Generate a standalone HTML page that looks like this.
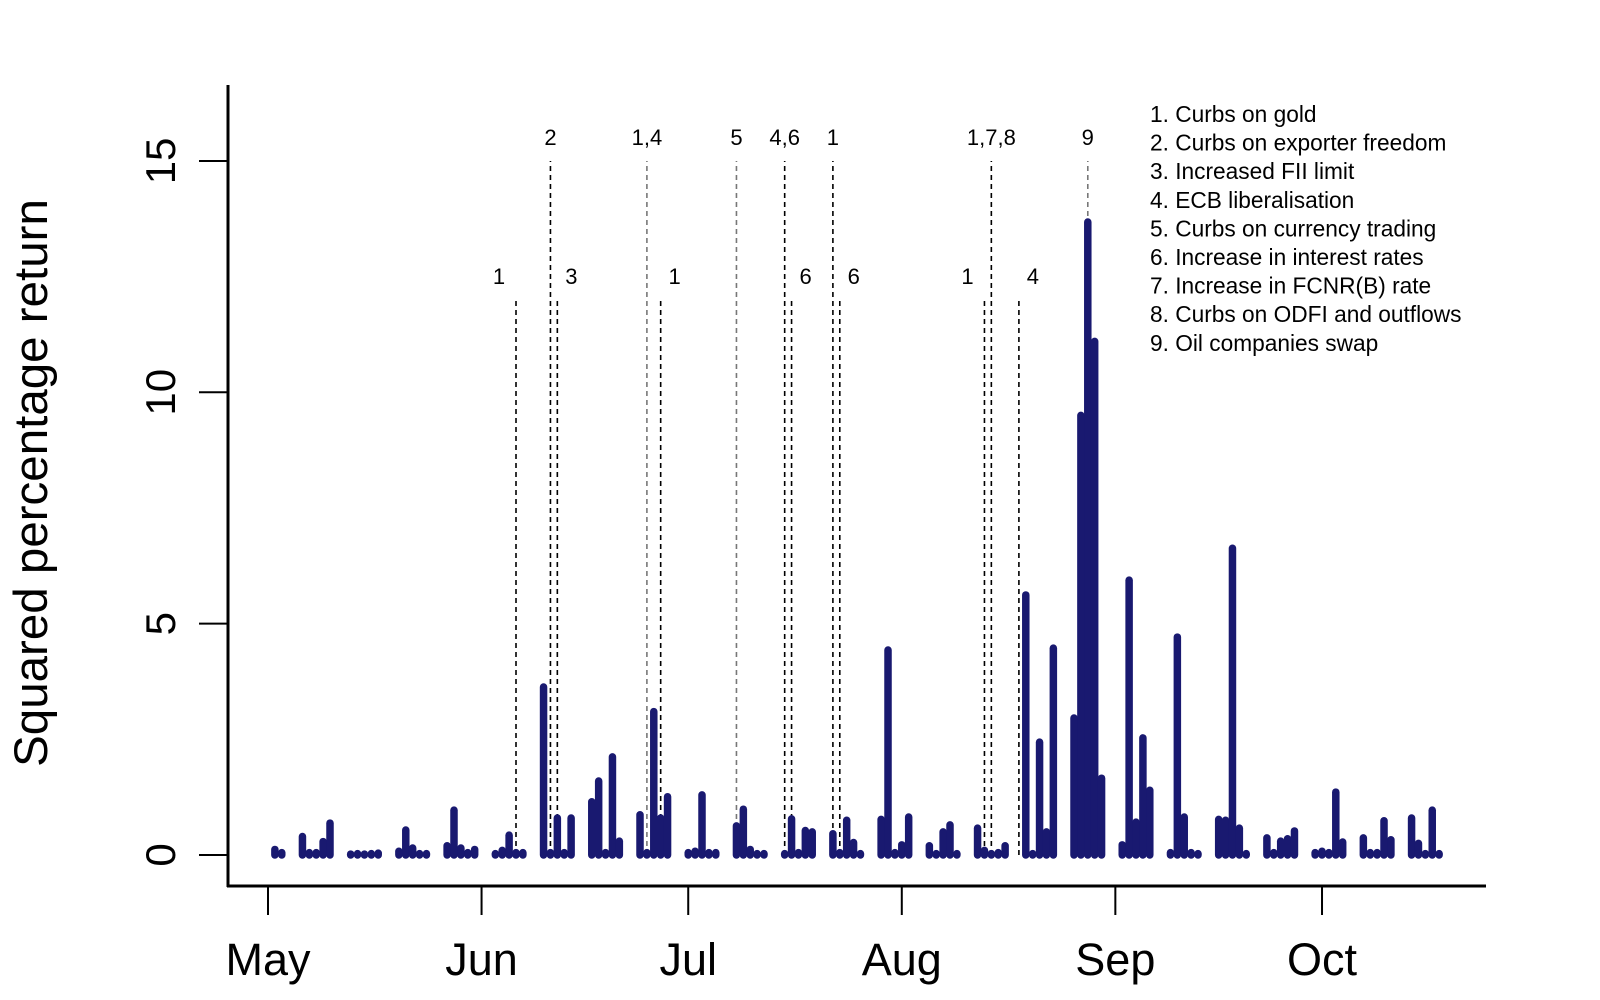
<!DOCTYPE html>
<html><head><meta charset="utf-8"><title>Squared percentage return</title>
<style>
html,body{margin:0;padding:0;background:#fff;}
svg{display:block;font-family:"Liberation Sans",Arial,sans-serif;}
</style></head>
<body>
<svg id="chart" width="1600" height="1000" viewBox="0 0 1600 1000" xmlns="http://www.w3.org/2000/svg">
  <g id="events"></g>
  <g id="bars"></g>
  <g id="axes"></g>
  <text x="0" y="0" transform="translate(47,483) rotate(-90)" text-anchor="middle" font-size="47.5" fill="#000">Squared percentage return</text>
  <g id="legend" font-size="22.7" fill="#000"></g>
</svg>
<script>
// ---- data ----
const startDate = "2013-05-02"; // first trading day; weekdays only
const values = [
  0.12,0.05,
  0.4,0.05,0.05,0.29,0.69,
  0.02,0.03,0.02,0.03,0.04,
  0.08,0.54,0.15,0.03,0.03,
  0.2,0.97,0.15,0.05,0.12,
  0.03,0.1,0.43,0.05,0.05,
  3.63,0.05,0.8,0.05,0.8,
  1.15,1.6,0.05,2.12,0.3,
  0.87,0.05,3.1,0.8,1.26,
  0.05,0.08,1.3,0.05,0.05,
  0.63,0.99,0.12,0.03,0.03,
  0.03,0.78,0.05,0.53,0.5,
  0.46,0.05,0.75,0.27,0.03,
  0.77,4.43,0.05,0.22,0.82,
  0.2,0.03,0.5,0.65,0.03,
  0.58,0.1,0.03,0.05,0.2,
  5.62,0.03,2.44,0.5,4.47,
  2.96,9.5,13.68,11.1,1.66,
  0.22,5.94,0.71,2.53,1.4,
  0.05,4.71,0.82,0.05,0.03,
  0.77,0.75,6.63,0.58,0.03,
  0.37,0.05,0.3,0.35,0.52,
  0.05,0.08,0.05,1.36,0.28,
  0.37,0.05,0.05,0.74,0.33,
  0.8,0.25,0.03,0.97,0.03
];
const eventDates = ["2013-06-11","2013-06-25","2013-07-08","2013-07-15","2013-07-22","2013-08-14","2013-08-28",
                    "2013-06-06","2013-06-12","2013-06-27","2013-07-16","2013-07-23","2013-08-13","2013-08-18"];
const eventLabels = ["2","1,4","5","4,6","1","1,7,8","9","1","3","1","6","6","1","4"];
const eventLevel = [15,15,15,15,15,15,15,12,12,12,12,12,12,12];
const eventGray = [false,true,true,false,false,false,true,false,false,false,false,false,false,false];
const eventSide = ["C","C","C","C","C","C","C","L","R","R","R","R","L","R"];
const yTicks = [0,5,10,15];
const monthTicks = ["2013-05-01","2013-06-01","2013-07-01","2013-08-01","2013-09-01","2013-10-01"];
const monthLabels = ["May","Jun","Jul","Aug","Sep","Oct"];
const legendItems = ["1. Curbs on gold","2. Curbs on exporter freedom","3. Increased FII limit","4. ECB liberalisation","5. Curbs on currency trading","6. Increase in interest rates","7. Increase in FCNR(B) rate","8. Curbs on ODFI and outflows","9. Oil companies swap"];

// ---- scales ----
const NS="http://www.w3.org/2000/svg";
const DAY=86400000, origin=Date.UTC(2013,4,1);
function dayOf(s){const p=s.split("-");return (Date.UTC(+p[0],+p[1]-1,+p[2])-origin)/DAY;}
function xScale(d){return 268+d*6.889;}
function yScale(v){return 855-v*46.27;}
function mk(tag,attrs,parent){const e=document.createElementNS(NS,tag);for(const k in attrs)e.setAttribute(k,attrs[k]);parent.appendChild(e);return e;}

// bars
const barsG=document.getElementById("bars");
let d=dayOf(startDate);
values.forEach((v,i)=>{
  while(((d+3)%7)===6||((d+3)%7)===0) d++; // May 1 2013 = Wednesday; skip Sat(6) & Sun(0)
  const x=xScale(d);
  const ln=mk("line",{x1:x,x2:x,y1:yScale(0),y2:yScale(v),stroke:"#191970","stroke-width":7.5,"stroke-linecap":"round"},barsG);
  
  
  d++;
});

// events
const evG=document.getElementById("events");
eventDates.forEach((s,i)=>{
  const x=xScale(dayOf(s));
  const ln=mk("line",{x1:x,x2:x,y1:yScale(0),y2:yScale(eventLevel[i]),stroke:eventGray[i]?"#777":"#000","stroke-width":1.6,"stroke-dasharray":"5,4"},evG);
  
  
  const off=eventSide[i]==="L"?-17:(eventSide[i]==="R"?14:0);
  const t=mk("text",{x:x+off,y:yScale(eventLevel[i])-16,"text-anchor":"middle","font-size":22,fill:"#000"},evG);
  t.textContent=eventLabels[i];
  
  
});

// axes
const ax=document.getElementById("axes");
const ya=mk("line",{x1:228,x2:228,y1:85,y2:887,stroke:"#000","stroke-width":3},ax);


const xa=mk("line",{x1:227,x2:1486,y1:886,y2:886,stroke:"#000","stroke-width":3},ax);


yTicks.forEach(v=>{
  const y=yScale(v);
  const tk=mk("line",{x1:199,x2:228,y1:y,y2:y,stroke:"#000","stroke-width":2},ax);
  
  
  const t=mk("text",{x:0,y:0,transform:`translate(175,${y}) rotate(-90)`,"text-anchor":"middle","font-size":42,fill:"#000"},ax);
  t.textContent=String(v);
  
  
});
monthTicks.forEach((s,i)=>{
  const x=xScale(dayOf(s));
  const tk=mk("line",{x1:x,x2:x,y1:886,y2:915,stroke:"#000","stroke-width":2},ax);
  
  
  const t=mk("text",{x:x,y:975,"text-anchor":"middle","font-size":45,fill:"#000"},ax);
  t.textContent=monthLabels[i];
  
  
});

// legend
const lg=document.getElementById("legend");
legendItems.forEach((s,i)=>{
  const t=mk("text",{x:1150,y:122+i*28.6},lg);
  t.textContent=s;
  
  
});
</script>
</body></html>
